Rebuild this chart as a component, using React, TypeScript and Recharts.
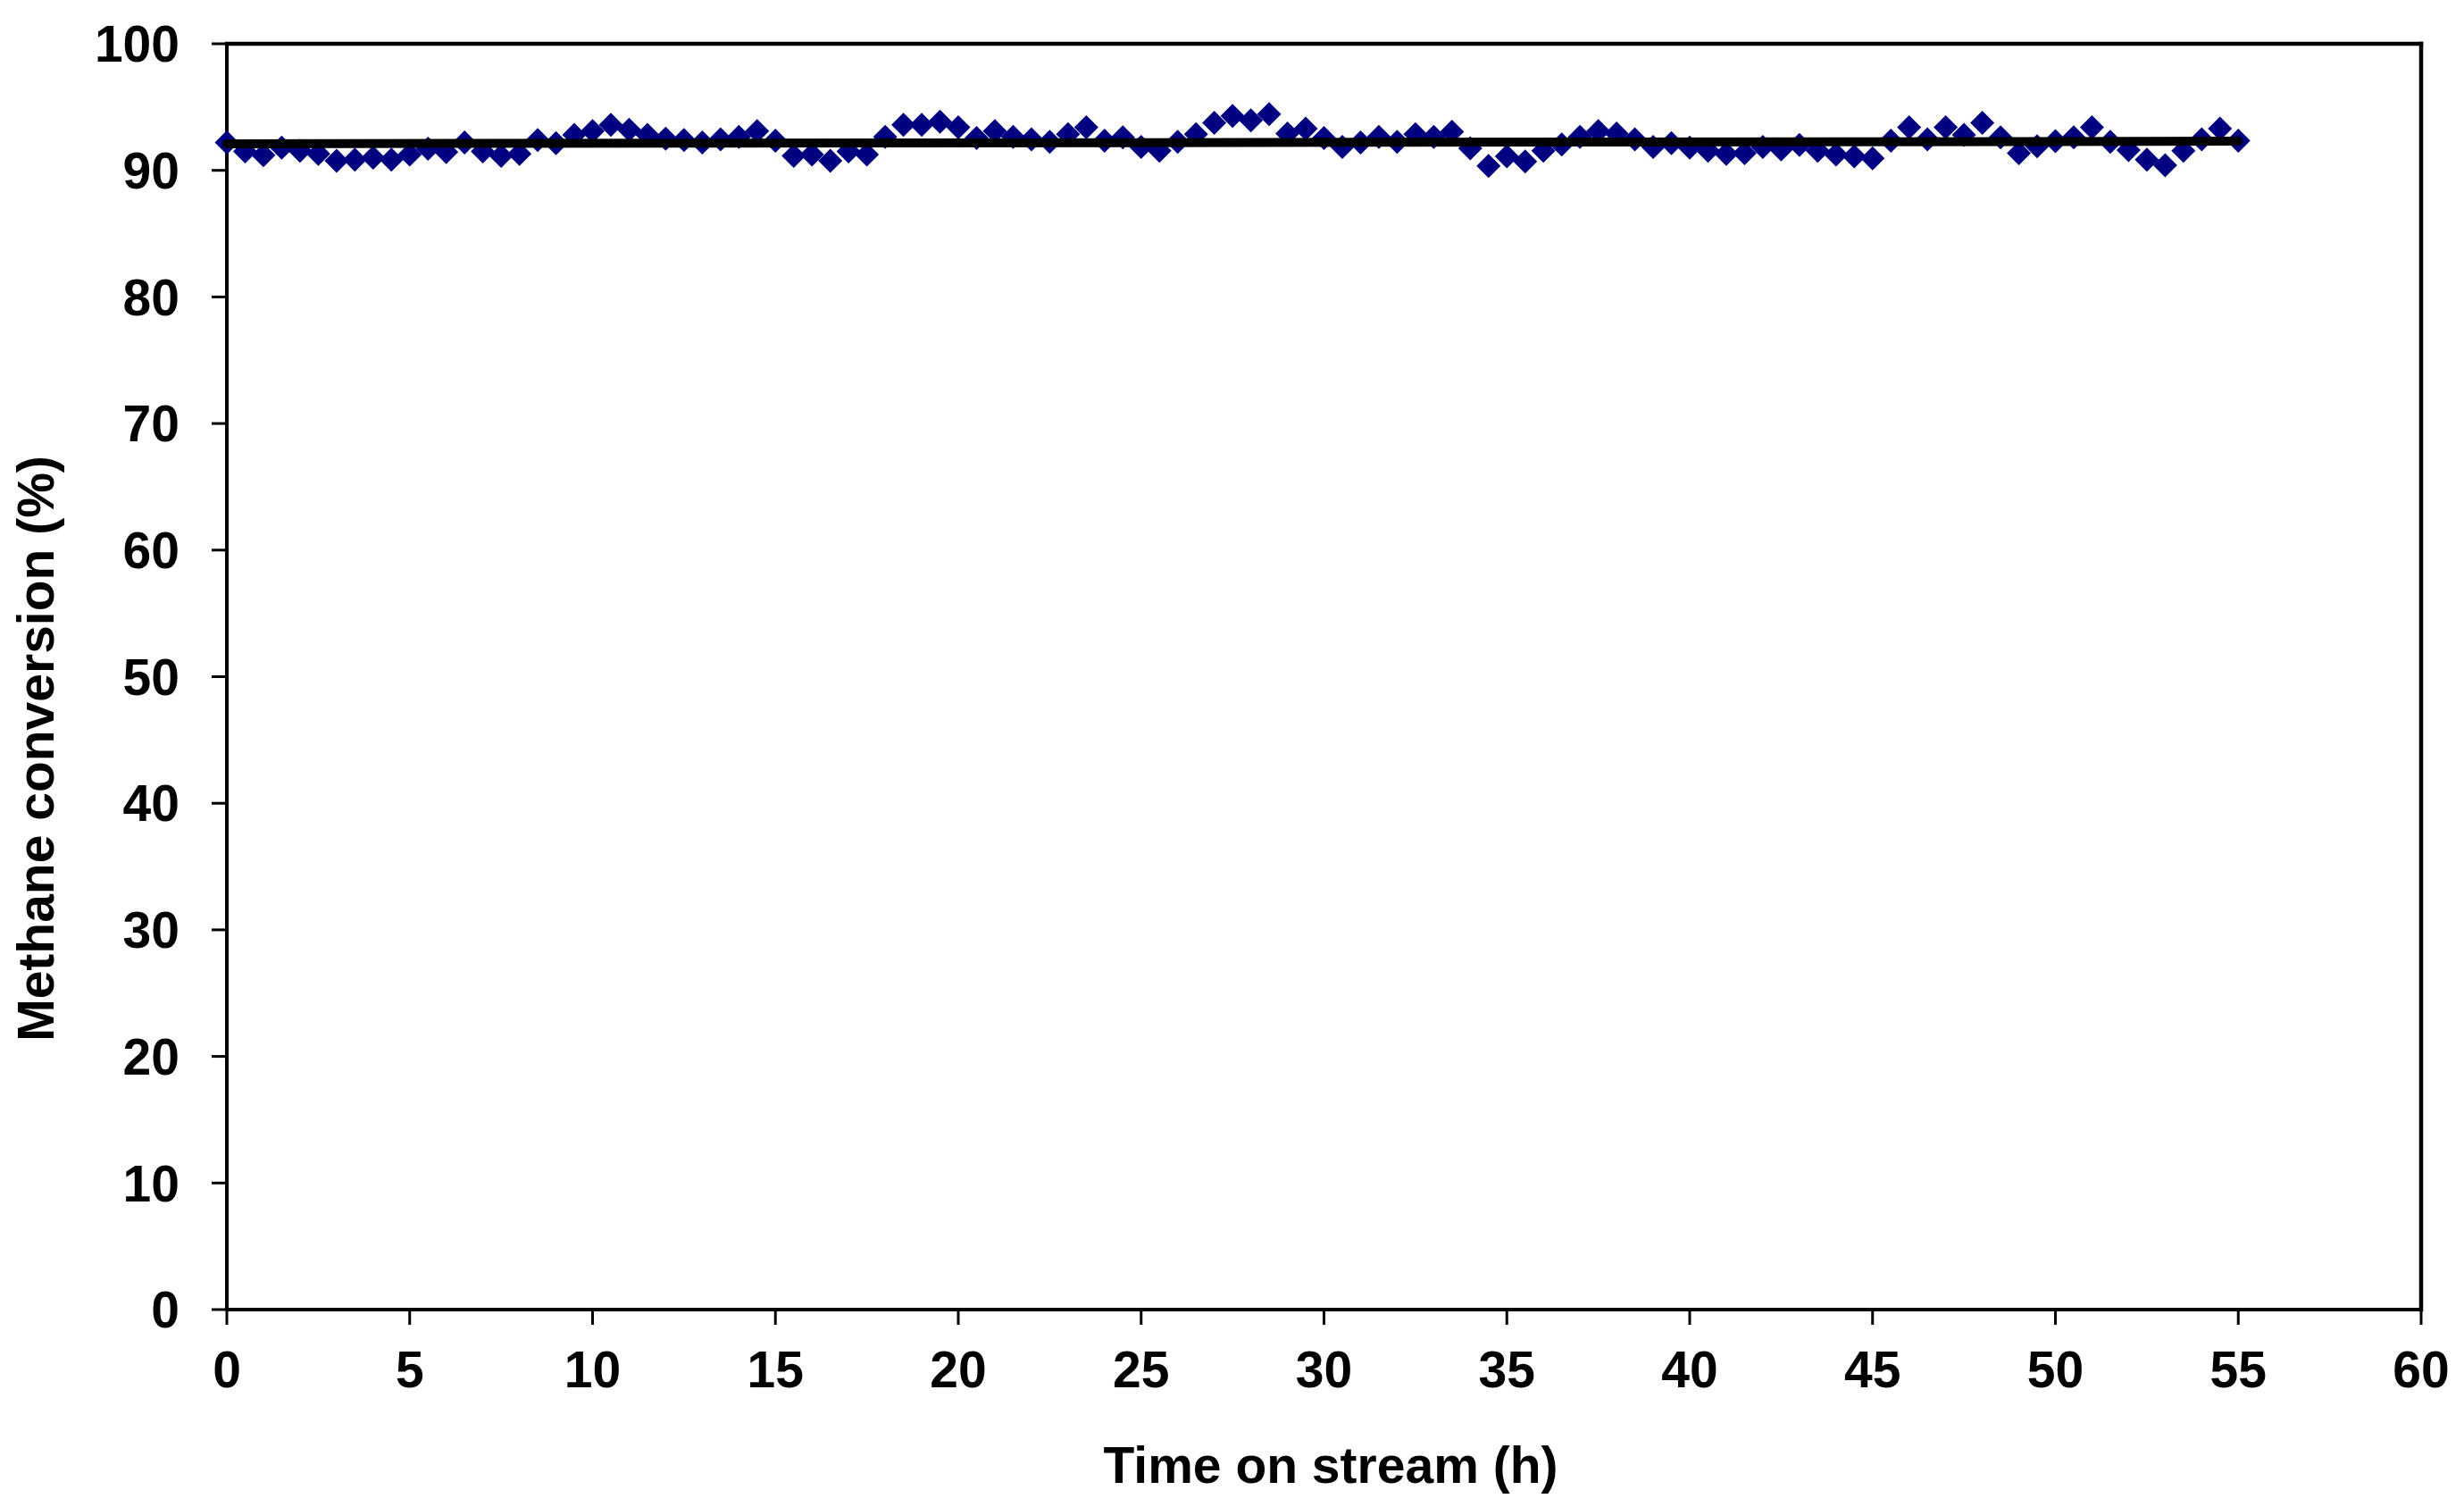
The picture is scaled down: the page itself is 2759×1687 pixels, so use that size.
import React from "react";
import { ScatterChart, Scatter, XAxis, YAxis, ReferenceLine, Label } from "recharts";

// hours on stream, one reading every half hour
const HOURS = [
  0, 0.5, 1, 1.5, 2, 2.5, 3, 3.5, 4, 4.5, 5, 5.5, 6, 6.5, 7, 7.5, 8, 8.5, 9, 9.5,
  10, 10.5, 11, 11.5, 12, 12.5, 13, 13.5, 14, 14.5, 15, 15.5, 16, 16.5, 17, 17.5, 18, 18.5, 19, 19.5,
  20, 20.5, 21, 21.5, 22, 22.5, 23, 23.5, 24, 24.5, 25, 25.5, 26, 26.5, 27, 27.5, 28, 28.5, 29, 29.5,
  30, 30.5, 31, 31.5, 32, 32.5, 33, 33.5, 34, 34.5, 35, 35.5, 36, 36.5, 37, 37.5, 38, 38.5, 39, 39.5,
  40, 40.5, 41, 41.5, 42, 42.5, 43, 43.5, 44, 44.5, 45, 45.5, 46, 46.5, 47, 47.5, 48, 48.5, 49, 49.5,
  50, 50.5, 51, 51.5, 52, 52.5, 53, 53.5, 54, 54.5, 55,
];

// methane conversion (%)
const CONVERSION = [
  92.2, 91.5, 91.2, 91.8, 91.55, 91.3, 90.75, 90.85, 91.0, 90.85,
  91.25, 91.7, 91.45, 92.2, 91.5, 91.15, 91.3, 92.4, 92.15, 92.8,
  93.1, 93.6, 93.2, 92.8, 92.5, 92.4, 92.2, 92.45, 92.65, 93.1,
  92.35, 91.15, 91.25, 90.75, 91.5, 91.25, 92.65, 93.6, 93.6, 93.85,
  93.4, 92.55, 93.1, 92.65, 92.45, 92.25, 92.85, 93.4, 92.35, 92.6,
  91.85, 91.55, 92.25, 92.85, 93.75, 94.3, 93.95, 94.45, 92.9, 93.3,
  92.55, 91.85, 92.2, 92.65, 92.25, 92.85, 92.65, 93.05, 91.75, 90.35,
  91.1, 90.7, 91.55, 92.05, 92.65, 93.1, 92.9, 92.45, 91.85, 92.15,
  91.8, 91.55, 91.3, 91.35, 91.85, 91.65, 92.0, 91.55, 91.25, 91.1,
  90.95, 92.35, 93.4, 92.45, 93.4, 92.8, 93.75, 92.6, 91.35, 91.9,
  92.3, 92.6, 93.4, 92.25, 91.6, 90.85, 90.4, 91.55, 92.45, 93.3,
  92.35,
];

// linear trend line end points
const TREND_HOURS = [0, 55];
const TREND_VALUES = [92.1, 92.3];

const X_TICKS = [0, 5, 10, 15, 20, 25, 30, 35, 40, 45, 50, 55, 60];
const Y_TICKS = [0, 10, 20, 30, 40, 50, 60, 70, 80, 90, 100];

const FONT = '"Liberation Sans", Arial, Helvetica, sans-serif';
const NAVY = "#000080";

const points = HOURS.map((h, i) => ({ x: h, y: CONVERSION[i] }));
const trend = TREND_HOURS.map((h, i) => ({ x: h, y: TREND_VALUES[i] }));

const tickStyle = { fill: "#000", fontSize: 57, fontWeight: 700, fontFamily: FONT };

function Diamond(props: any) {
  const { cx, cy } = props;
  if (cx == null || cy == null) return null;
  const r = 13.5;
  return (
    <polygon
      points={`${cx},${cy - r} ${cx + r},${cy} ${cx},${cy + r} ${cx - r},${cy}`}
      fill={NAVY}
    />
  );
}

const NoDot = () => <g />;

const XTitle = () => (
  <text x={1482} y={1652} textAnchor="middle" fontSize={57} fontWeight={700} fontFamily={FONT} fill="#000">
    Time on stream (h)
  </text>
);

const YTitle = () => (
  <text
    x={52}
    y={830}
    transform="rotate(-90, 52, 830)"
    textAnchor="middle"
    fontSize={57}
    fontWeight={700}
    fontFamily={FONT}
    fill="#000"
  >
    Methane conversion (%)
  </text>
);

export default function App() {
  return (
    <div style={{ width: 2743, height: 1671, background: "#fff" }}>
      <ScatterChart width={2743} height={1671} margin={{ top: 41, right: 40, bottom: 0, left: 0 }}>
        <XAxis
          type="number"
          dataKey="x"
          domain={[0, 60]}
          ticks={X_TICKS}
          interval={0}
          height={213}
          tick={tickStyle}
          tickSize={17}
          tickMargin={30}
          axisLine={{ stroke: "#000", strokeWidth: 4 }}
          tickLine={{ stroke: "#000", strokeWidth: 3 }}
        >
          <Label content={XTitle} />
        </XAxis>
        <YAxis
          type="number"
          dataKey="y"
          domain={[0, 100]}
          ticks={Y_TICKS}
          interval={0}
          width={246}
          tick={tickStyle}
          tickSize={17}
          tickMargin={36}
          axisLine={{ stroke: "#000", strokeWidth: 4 }}
          tickLine={{ stroke: "#000", strokeWidth: 3 }}
        >
          <Label content={YTitle} />
        </YAxis>
        <ReferenceLine y={100} stroke="#000" strokeWidth={4.5} strokeLinecap="square" />
        <ReferenceLine x={60} stroke="#000" strokeWidth={4.5} strokeLinecap="square" />
        <Scatter data={points} shape={Diamond} fill={NAVY} isAnimationActive={false} />
        <Scatter
          data={trend}
          fill="#000"
          shape={NoDot}
          line={{ stroke: "#000", strokeWidth: 10, strokeLinecap: "round" }}
          isAnimationActive={false}
        />
      </ScatterChart>
    </div>
  );
}
